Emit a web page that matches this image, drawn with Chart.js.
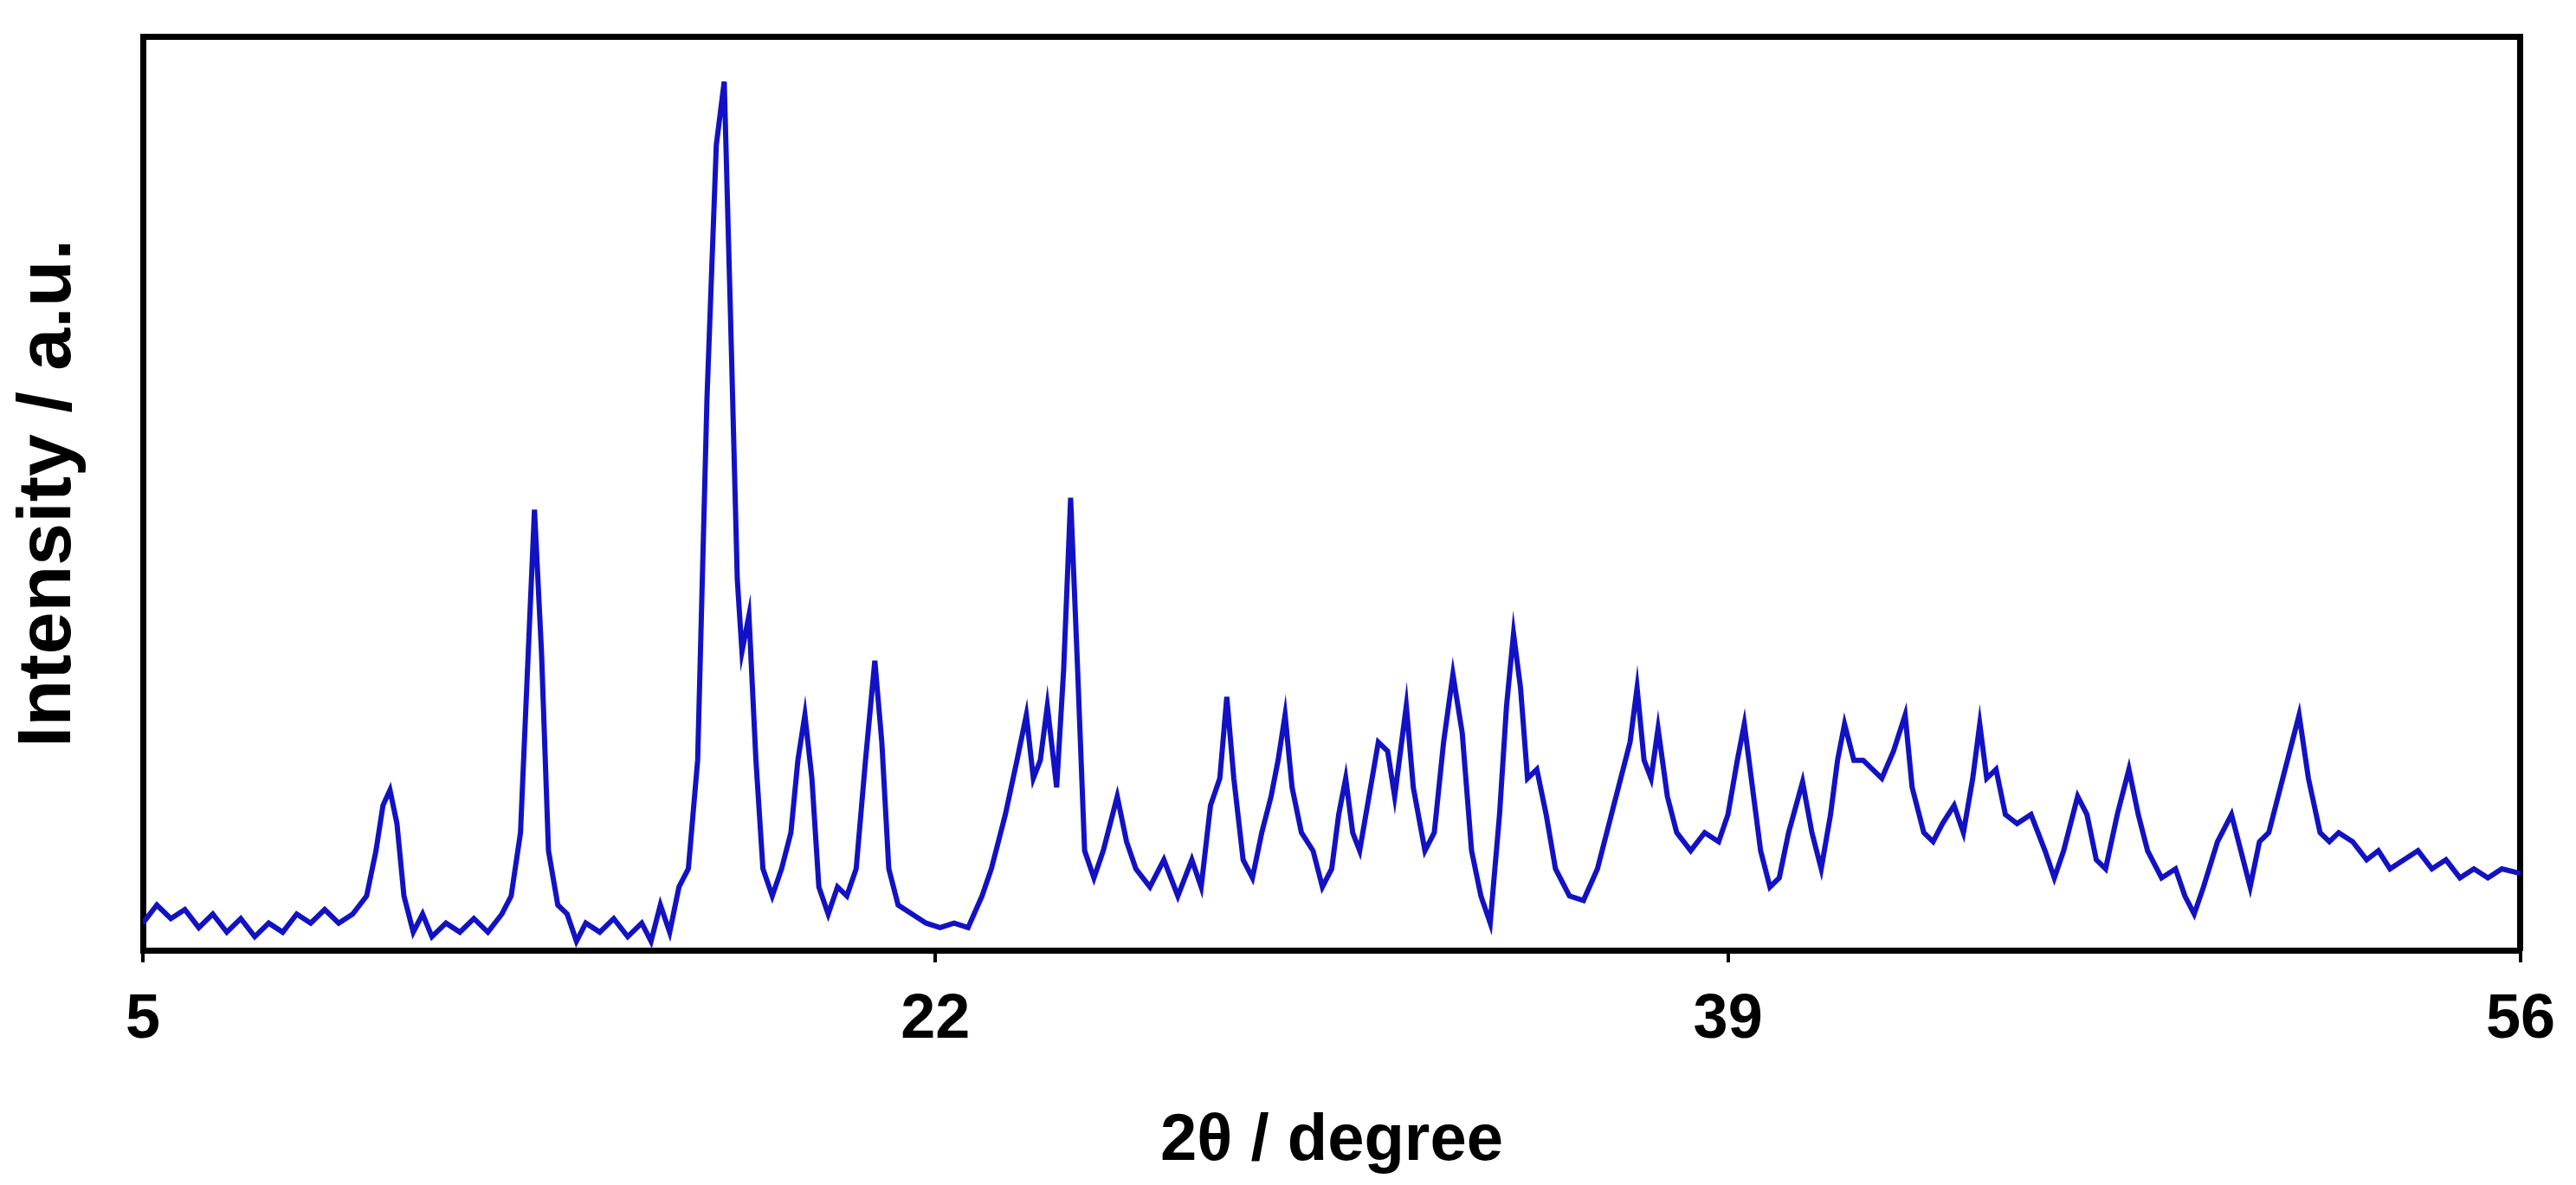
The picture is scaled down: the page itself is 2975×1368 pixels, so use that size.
<!DOCTYPE html>
<html><head><meta charset="utf-8">
<script src="https://cdn.jsdelivr.net/npm/chart.js@4"></script>
<style>html,body{margin:0;padding:0;background:#fff}#w{width:2975px;height:1368px}</style>
</head><body><div id="w"><canvas id="c"></canvas></div>
<script>
const twoTheta = [5.0,5.3,5.6,5.9,6.2,6.5,6.8,7.1,7.4,7.7,8.0,8.3,8.6,8.9,9.2,9.5,9.8,10.0,10.15,10.3,10.45,10.6,10.8,11.0,11.2,11.5,11.8,12.1,12.4,12.7,12.9,13.1,13.25,13.4,13.55,13.7,13.9,14.1,14.3,14.5,14.8,15.1,15.4,15.7,15.9,16.1,16.3,16.5,16.7,16.9,17.1,17.3,17.47,17.6,17.75,17.85,18.0,18.15,18.3,18.5,18.7,18.9,19.05,19.2,19.35,19.5,19.7,19.9,20.1,20.3,20.5,20.7,20.85,21.0,21.2,21.5,21.8,22.1,22.4,22.7,23.0,23.2,23.5,23.75,23.95,24.1,24.25,24.4,24.6,24.75,24.9,25.05,25.2,25.4,25.6,25.9,26.1,26.3,26.6,26.9,27.2,27.5,27.7,27.9,28.1,28.25,28.4,28.6,28.8,29.0,29.2,29.35,29.5,29.65,29.85,30.1,30.3,30.5,30.65,30.8,30.95,31.1,31.3,31.5,31.7,31.85,32.0,32.1,32.25,32.5,32.7,32.9,33.1,33.3,33.5,33.7,33.9,34.1,34.25,34.4,34.55,34.7,34.9,35.1,35.3,35.6,35.9,36.2,36.5,36.7,36.9,37.05,37.2,37.35,37.5,37.7,37.9,38.2,38.5,38.8,39.0,39.2,39.35,39.5,39.7,39.9,40.1,40.3,40.6,40.8,41.0,41.2,41.35,41.5,41.7,41.9,42.1,42.3,42.55,42.8,42.95,43.2,43.4,43.6,43.85,44.05,44.25,44.4,44.55,44.75,44.95,45.2,45.5,45.8,46.0,46.2,46.5,46.7,46.9,47.1,47.35,47.6,47.8,48.0,48.3,48.6,48.8,49.0,49.2,49.5,49.8,50.0,50.2,50.4,50.6,50.9,51.1,51.25,51.45,51.7,51.9,52.1,52.4,52.7,52.95,53.2,53.5,53.8,54.1,54.4,54.7,55.0,55.3,55.6,56.0];
const intensity = [2,4,2.5,3.5,1.5,3,1,2.5,0.5,2,1,3,2,3.5,2,3,5,10,15,16.7,13,5,1,3,0.5,2,1,2.5,1,3,5,12,30,47.7,32,10,4,3,0,2,1,2.5,0.5,2,0,4,1,6,8,20,60,88,95,70,40,32,36,20,8,5,8,12,20,25,18,6,3,6,5,8,20,31,22,8,4,3,2,1.5,2,1.5,5,8,14,20,25,18,20,26,17,30,49,30,10,7,10,16,11,8,6,9,5,9,6,15,18,27,18,9,7,12,16,20,25,17,12,10,6,8,14,18,12,10,16,22,21,16,22,26,17,10,12,22,29.5,23,10,5,2,14,26,34,28,18,19,14,8,5,4.5,8,14,18,22,28,20,18,23.5,16,12,10,12,11,14,20,24,18,10,6,7,12,17.6,12,8,14,20,24,20,20,19,18,21,25,17,12,11,13,15,12,18,24,18,19,14,13,14,10,7,10,16,14,9,8,14,19,14,10,7,8,5,3,6,11,14,10,6,11,12,18,22,25,18,12,11,12,11,9,10,8,9,10,8,9,7,8,7,8,7.5];
const xTicks = [5,22,39,56];
const pts = twoTheta.map((x,i)=>({x, y:intensity[i]}));
const F = "'Liberation Sans', Arial, sans-serif";
const frame = {display:true, color:'#000', width:7};
new Chart(document.getElementById('c'), {
  type:'line',
  data:{datasets:[{data:pts, borderColor:'#1212c4', borderWidth:6, pointRadius:0, tension:0, xAxisID:'x', yAxisID:'y'}]},
  options:{
    responsive:true, maintainAspectRatio:false, animation:false,
    layout:{padding:0},
    plugins:{legend:{display:false}, tooltip:{enabled:false}},
    scales:{
      x:{type:'linear', position:'bottom', min:5, max:56,
         afterBuildTicks:a=>{a.ticks = xTicks.map(v=>({value:v}));},
         afterFit:a=>{a.height = 271;},
         border:frame, grid:{drawOnChartArea:false, color:'#000', lineWidth:4, tickLength:14},
         ticks:{font:{family:F, size:72, weight:'bold'}, color:'#000', padding:24, maxRotation:0},
         title:{display:true, text:'2θ / degree', font:{family:F, size:76, weight:'bold'}, color:'#000', padding:{top:4}}},
      x2:{type:'linear', position:'top', min:5, max:56, afterFit:a=>{a.height = 42;},
         border:frame, grid:{display:false}, ticks:{display:false}},
      y:{type:'linear', position:'left', min:-1, max:100,
         afterFit:a=>{a.width = 165;},
         border:frame, grid:{display:false}, ticks:{display:false},
         title:{display:true, text:'Intensity / a.u.', font:{family:F, size:88, weight:'bold'}, color:'#000', padding:{bottom:14}}},
      y2:{type:'linear', position:'right', min:-1, max:100, afterFit:a=>{a.width = 63;},
         border:frame, grid:{display:false}, ticks:{display:false}}
    }
  }
});
</script></body></html>
